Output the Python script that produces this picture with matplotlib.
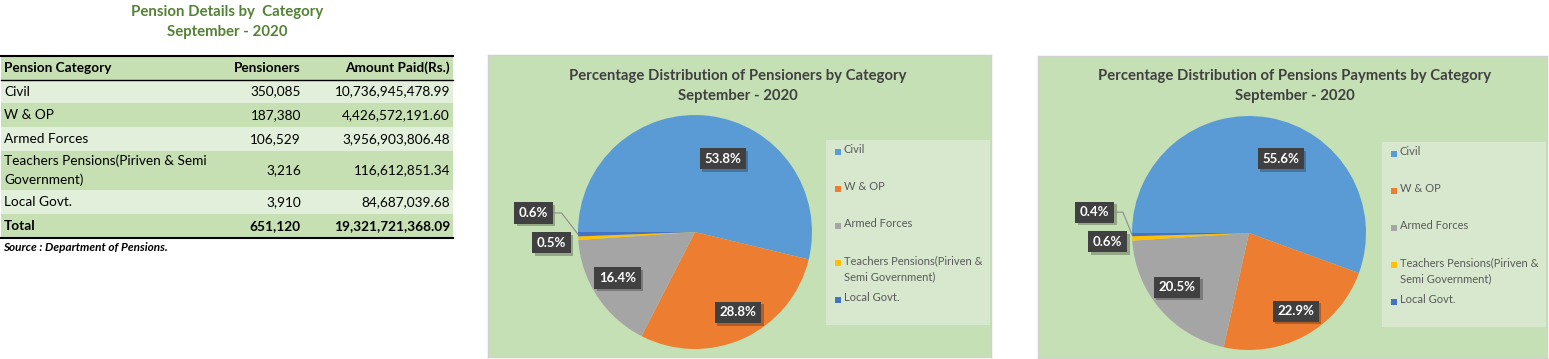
import matplotlib
matplotlib.use('Agg')
import matplotlib.pyplot as plt
import matplotlib.transforms as mtransforms
from matplotlib.patches import Rectangle
import numpy as np

# data
categories = ['Civil', 'W & OP', 'Armed Forces',
              'Teachers Pensions(Piriven & Semi Government)', 'Local Govt.']
table_labels = ['Civil', 'W & OP', 'Armed Forces',
                'Teachers Pensions(Piriven & Semi\nGovernment)', 'Local Govt.']
legend_labels = ['Civil', 'W & OP', 'Armed Forces',
                 'Teachers Pensions(Piriven &\nSemi Government)', 'Local Govt.']
pensioners = [350085, 187380, 106529, 3216, 3910]
amount_paid = [10736945478.99, 4426572191.60, 3956903806.48, 116612851.34, 84687039.68]
table_title = ['Pension Details by  Category', 'September - 2020']
pie1_title = ['Percentage Distribution of Pensioners by Category', 'September - 2020']
pie2_title = ['Percentage Distribution of Pensions Payments by Category', 'September - 2020']

colors = ['#5b9bd5', '#ed7d31', '#a5a5a5', '#ffc000', '#4472c4']
FONT = 'Lato'
W, H = 1549, 359
R = 117.0

plt.rcParams['font.family'] = [FONT, 'DejaVu Sans']
fig = plt.figure(figsize=(W / 100, H / 100), dpi=100)
fig.patch.set_facecolor('white')


def draw_pie(box, center, values, lab_style):
    x0, y0, x1, y1 = box
    cx, cy = center
    ax = fig.add_axes([x0 / W, 1 - y1 / H, (x1 - x0) / W, (y1 - y0) / H])
    wedges, _ = ax.pie(values, colors=colors, startangle=180, counterclock=False,
                       radius=1, wedgeprops=dict(linewidth=0))
    ax.set_xlim((x0 - cx) / R, (x1 - cx) / R)
    ax.set_ylim((cy - y1) / R, (cy - y0) / R)
    ax.set_aspect('auto')
    ax.set_frame_on(True)
    ax.patch.set_facecolor('#c5e0b4')
    for s in ax.spines.values():
        s.set_color('#d0d0d0')
        s.set_linewidth(1)
    pct = np.array(values) / np.sum(values) * 100
    shadow = mtransforms.offset_copy(ax.transData, fig=fig, x=2.5, y=-2.5, units='dots')
    for w, p, (r, dang) in zip(wedges, pct, lab_style):
        mid = (w.theta1 + w.theta2) / 2
        a = np.deg2rad(mid + dang)
        lx, ly = r * np.cos(a), r * np.sin(a)
        txt = f'{p:.1f}%'
        ax.text(lx, ly, txt, transform=shadow, ha='center', va='center', fontsize=9.5,
                fontweight='bold', color='none',
                bbox=dict(boxstyle='square,pad=0.35', fc='black', ec='none', alpha=0.25))
        ax.text(lx, ly, txt, ha='center', va='center', fontsize=9.5, fontweight='bold',
                color='white', zorder=5,
                bbox=dict(boxstyle='square,pad=0.35', fc='#404040', ec='none'))
        if r > 1.3:
            m = np.deg2rad(mid)
            ax.plot([lx + 0.17, lx + 0.24, np.cos(m)], [ly, ly, np.sin(m)],
                    color='#8c8c8c', lw=0.8, zorder=4)
    return ax


draw_pie((488, 55, 991, 357), (695, 232), pensioners,
         [(0.67, -14), (0.78, 3.5), (0.77, -2.7), (1.23, 1.2), (1.39, -7.8)])
draw_pie((1038, 56, 1547, 358), (1249, 233), amount_paid,
         [(0.69, -13), (0.78, 2.2), (0.77, -3.6), (1.21, 0.9), (1.33, -8.5)])

# overlay in pixel coordinates for table, titles and legends
ov = fig.add_axes([0, 0, 1, 1], zorder=10)
ov.set_xlim(0, W)
ov.set_ylim(H, 0)
ov.axis('off')

# table title
ov.text(227, 12, table_title[0], ha='center', va='center', fontsize=10.8,
        fontweight='bold', color='#548235')
ov.text(227, 32, table_title[1], ha='center', va='center', fontsize=10.8,
        fontweight='bold', color='#548235')

# table
row_h = [24, 23, 24, 24, 39, 24, 24]
fills = ['#c6e0b4', '#e2efda', '#c6e0b4', '#e2efda', '#c6e0b4', '#e2efda', '#c6e0b4']
rows = [('Pension Category', 'Pensioners', 'Amount Paid(Rs.)')]
for lab, p, a in zip(table_labels, pensioners, amount_paid):
    rows.append((lab, f'{p:,}', f'{a:,.2f}'))
rows.append(('Total', f'{sum(pensioners):,}', f'{sum(amount_paid):,.2f}'))
tx0, tx1 = 1, 453
y = 55.5
for i, (row, h, fc) in enumerate(zip(rows, row_h, fills)):
    ov.add_patch(Rectangle((tx0, y), tx1 - tx0, h, fc=fc, ec='none'))
    bold = 'bold' if i in (0, len(rows) - 1) else 'normal'
    yc = y + h / 2 + 0.5
    ov.text(4, yc, row[0], ha='left', va='center', fontsize=9.8, fontweight=bold,
            color='black', linespacing=1.65)
    ov.text(301, yc, row[1], ha='right', va='center', fontsize=9.8, fontweight=bold,
            color='black')
    ov.text(450, yc, row[2], ha='right', va='center', fontsize=9.8, fontweight=bold,
            color='black')
    y += h
ov.plot([tx0, tx1], [55.5, 55.5], color='black', lw=1.5)
ov.plot([tx0, tx1], [55.5 + row_h[0], 55.5 + row_h[0]], color='black', lw=1)
ov.plot([tx0, tx1], [y, y], color='black', lw=1.5)
ov.text(3, y + 10, 'Source : Department of Pensions.', ha='left', va='center',
        fontsize=8.5, fontweight='bold', fontstyle='italic', color='black')

# chart titles
for cx, lines in ((738, pie1_title), (1295, pie2_title)):
    ov.text(cx, 76, lines[0], ha='center', va='center', fontsize=10.7,
            fontweight='bold', color='#404040')
    ov.text(cx, 96, lines[1], ha='center', va='center', fontsize=10.7,
            fontweight='bold', color='#404040')


def draw_legend(x0, y0, x1, y1, first_y):
    ov.add_patch(Rectangle((x0, y0), x1 - x0, y1 - y0, fc='#d8e8cf', ec='none'))
    for i, (lab, c) in enumerate(zip(legend_labels, colors)):
        yy = first_y + i * 37
        ov.add_patch(Rectangle((x0 + 9, yy - 2), 6, 6, fc=c, ec='none'))
        ov.text(x0 + 18, yy - 7, lab, ha='left', va='top', fontsize=8,
                color='#595959', linespacing=1.55)


draw_legend(826, 140, 990, 325, 151)
draw_legend(1382, 142, 1546, 327, 153)

fig.savefig('out.png', dpi=100, facecolor='white')
